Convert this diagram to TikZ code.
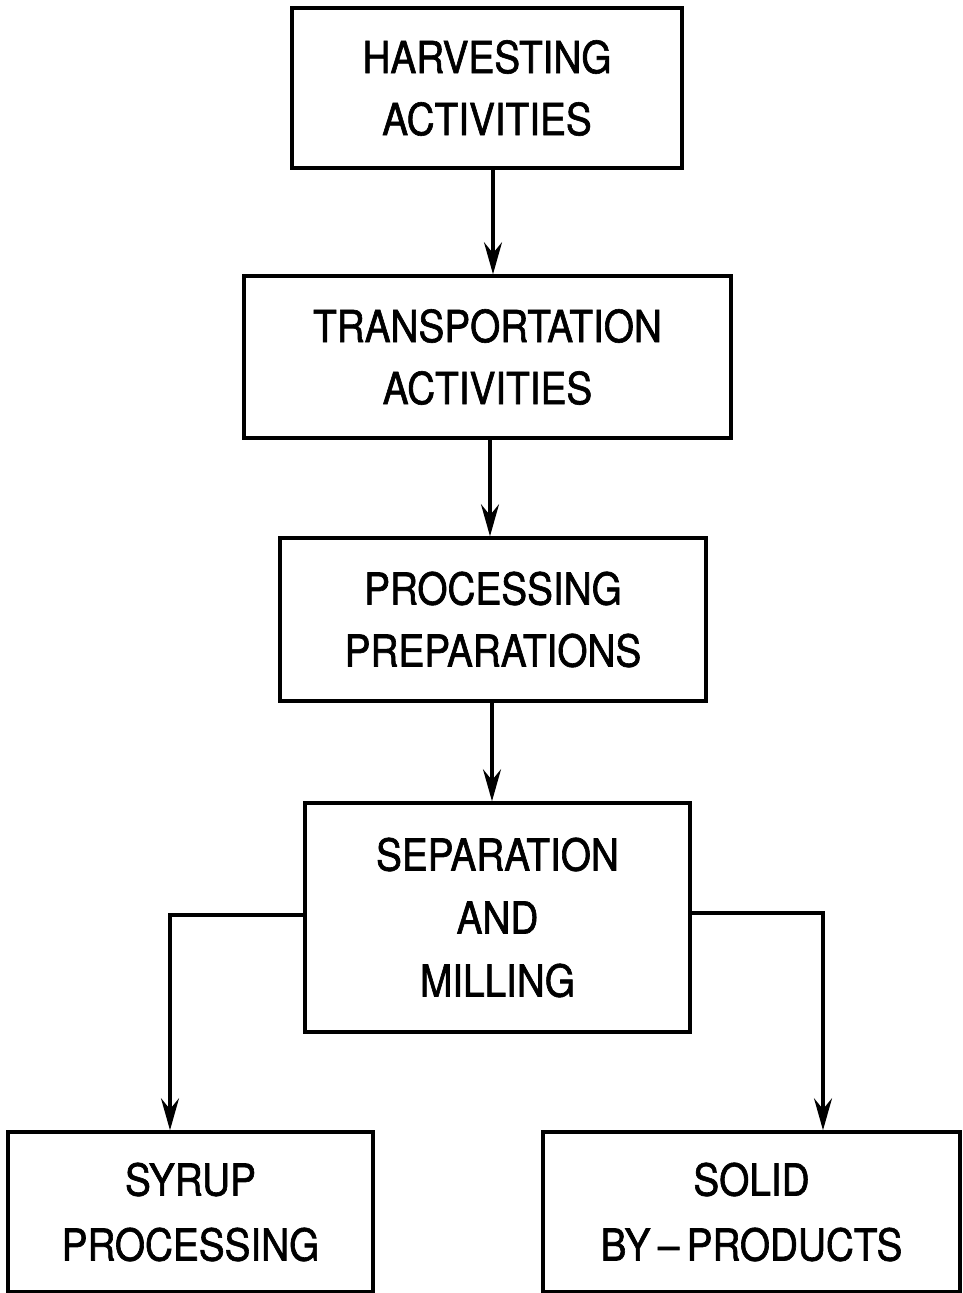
\documentclass[tikz,border=0pt]{standalone}
\usepackage{fontspec}
\setmainfont[FakeStretch=0.88,FakeBold=1.4]{TeX Gyre Heros}
\usetikzlibrary{arrows.meta}
\begin{document}
\begin{tikzpicture}[x=1pt,y=-1pt,
  box/.style={draw, line width=3.5pt, rectangle, align=center, inner sep=0pt,
    font=\fontsize{44}{62}\selectfont},
  conn/.style={line width=3.5pt, -{Stealth[length=32pt,width=18pt,inset=11pt]}}]
\useasboundingbox[fill=white] (0,0) rectangle (963,1293);
\node[box, minimum width=390pt, minimum height=160pt] (b1) at (487,88) {HARVESTING\\ACTIVITIES};
\node[box, minimum width=487pt, minimum height=162pt] (b2) at (487.5,357) {TRANSPORTATION\\ACTIVITIES};
\node[box, minimum width=426pt, minimum height=163pt] (b3) at (493,619.5) {PROCESSING\\PREPARATIONS};
\node[box, minimum width=385pt, minimum height=229pt, font=\fontsize{44}{63}\selectfont] (b4) at (497.5,917.5) {SEPARATION\\AND\\MILLING};
\node[box, minimum width=365pt, minimum height=160pt, font=\fontsize{44}{65}\selectfont] (b5) at (190.5,1212) {SYRUP\\PROCESSING};
\node[box, minimum width=417pt, minimum height=160pt, font=\fontsize{44}{65}\selectfont] (b6) at (751.5,1212) {SOLID\\BY\,–\,PRODUCTS};
\draw[conn] (b1.south -| 493,0) -- (b2.north -| 493,0);
\draw[conn] (b2.south -| 490,0) -- (b3.north -| 490,0);
\draw[conn] (b3.south -| 492,0) -- (b4.north -| 492,0);
\draw[conn] (b4.west |- 0,915) -| (b5.north -| 170,0);
\draw[conn] (b4.east |- 0,913) -| (b6.north -| 823,0);
\end{tikzpicture}
\end{document}
